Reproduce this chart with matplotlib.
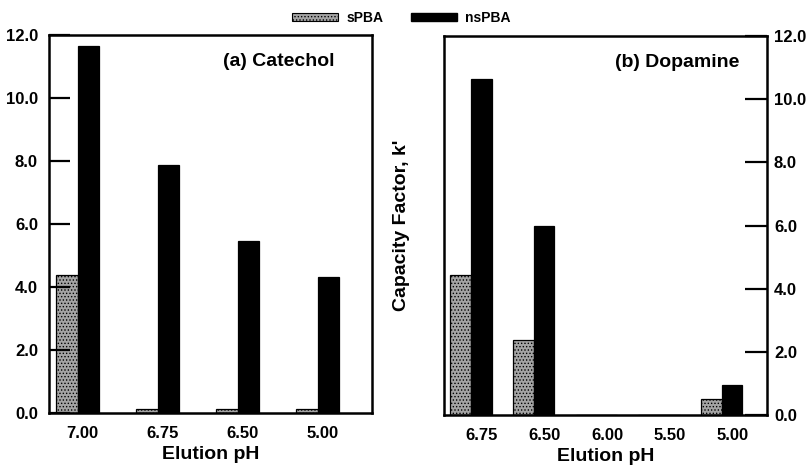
import matplotlib
matplotlib.use("Agg")
import matplotlib.pyplot as plt
import numpy as np
from matplotlib.patches import Patch

plt.rcParams['font.family'] = ['Liberation Sans', 'DejaVu Sans']
plt.rcParams['font.weight'] = 'bold'
plt.rcParams['hatch.color'] = '#3a3a3a'
plt.rcParams['hatch.linewidth'] = 0.6

# Panel (a) Catechol
cat_a = ["7.00", "6.75", "6.50", "5.00"]
spba_a = [4.38, 0.14, 0.12, 0.12]
nspba_a = [11.65, 7.86, 5.47, 4.32]

# Panel (b) Dopamine
cat_b = ["6.75", "6.50", "6.00", "5.50", "5.00"]
spba_b = [4.45, 2.37, 0.0, 0.0, 0.5]
nspba_b = [10.63, 6.0, 0.0, 0.0, 0.97]

yticks = [0, 2, 4, 6, 8, 10, 12]
ytick_labels = ["0.0", "2.0", "4.0", "6.0", "8.0", "10.0", "12.0"]

fig = plt.figure(figsize=(8.09, 4.66), dpi=100)
ax1 = fig.add_axes([0.0606, 0.1137, 0.399, 0.811])
ax2 = fig.add_axes([0.549, 0.109, 0.399, 0.814])

grey = '#a4a4a4'

def draw(ax, cats, s, n, bw, xlim, tick_off):
    x = np.arange(len(cats))
    ax.bar(x - bw / 2, s, width=bw, color=grey, edgecolor='black',
           linewidth=0.9, hatch='.....')
    ax.bar(x + bw / 2, n, width=bw, color='black', edgecolor='black',
           linewidth=0.9)
    ax.set_xlim(*xlim)
    ax.set_ylim(0, 12)
    ax.set_xticks(x + tick_off)
    ax.set_xticklabels(cats, fontsize=12, fontweight='bold')
    ax.tick_params(axis='x', length=0, pad=9)
    ax.set_yticks(yticks)
    ax.set_yticklabels(ytick_labels, fontsize=12, fontweight='bold')
    for sp in ax.spines.values():
        sp.set_linewidth(1.8)
    ax.set_xlabel("Elution pH", fontsize=14, fontweight='bold', labelpad=4)

draw(ax1, cat_a, spba_a, nspba_a, 0.27, (-0.36, 3.675), 0.06)
ax1.tick_params(axis='y', direction='in', length=15, width=1.6, pad=8)
ax1.text(0.885, 0.93, "(a) Catechol", transform=ax1.transAxes,
         ha='right', va='center', fontsize=14, fontweight='bold')

draw(ax2, cat_b, spba_b, nspba_b, 0.33, (-0.43, 4.72), 0.17)
ax2.yaxis.tick_right()
ax2.tick_params(axis='y', direction='in', length=16, width=1.6, pad=5,
                left=False, labelleft=False, right=True, labelright=True)
ax2.text(0.916, 0.93, "(b) Dopamine", transform=ax2.transAxes,
         ha='right', va='center', fontsize=14, fontweight='bold')
ax2.set_ylabel("Capacity Factor, k'", fontsize=14, fontweight='bold')
ax2.yaxis.set_label_position('left')
ax2.yaxis.set_label_coords(-0.105, 0.5)

handles = [Patch(facecolor=grey, edgecolor='black', hatch='.....', linewidth=0.8, label='sPBA'),
           Patch(facecolor='black', edgecolor='black', label='nsPBA')]
fig.legend(handles=handles, loc='center', bbox_to_anchor=(0.496, 0.961), ncol=2,
           frameon=False, handlelength=3.3, handleheight=0.5,
           columnspacing=2.0, handletextpad=0.6, prop={'weight': 'bold', 'size': 10})

fig.savefig("out.png", dpi=100)
